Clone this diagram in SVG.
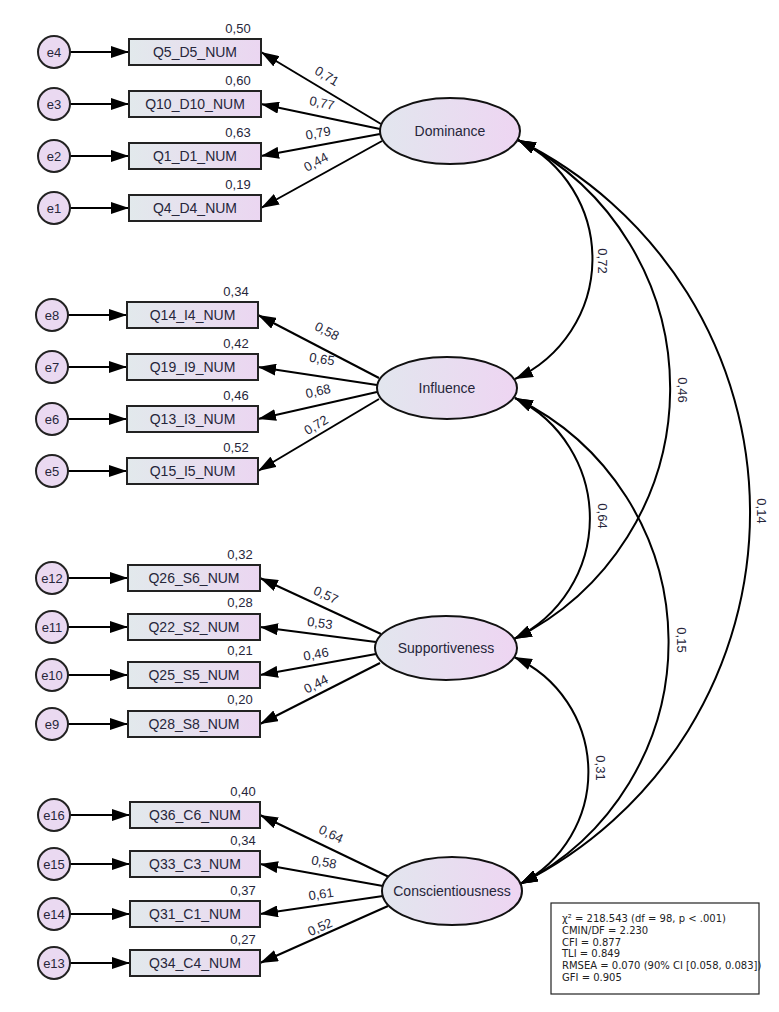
<svg xmlns="http://www.w3.org/2000/svg" width="779" height="1012" viewBox="0 0 779 1012">
<defs>
<linearGradient id="gl" x1="0" y1="0" x2="1" y2="0"><stop offset="0" stop-color="#e2e6ee"/><stop offset="1" stop-color="#eed5f2"/></linearGradient>
<linearGradient id="gb" x1="0" y1="0" x2="1" y2="0"><stop offset="0" stop-color="#e2e9ec"/><stop offset="1" stop-color="#ebd6f1"/></linearGradient>
<marker id="ah" viewBox="0 0 18 12" refX="18" refY="6" markerWidth="18" markerHeight="12" markerUnits="userSpaceOnUse" orient="auto-start-reverse"><path d="M0,0L18,6L0,12z" fill="#000"/></marker>
</defs>
<style>
.lat ellipse{fill:url(#gl);stroke:#111;stroke-width:2}
.obs rect{fill:url(#gb);stroke:#222;stroke-width:2}
.err circle{fill:#ead9f1;stroke:#222;stroke-width:2}
text{font-family:"Liberation Sans",Arial,sans-serif;fill:#26263a}
.nl{font-size:14px;text-anchor:middle}
.el{font-size:13px;text-anchor:middle}
.cf{font-size:13px;text-anchor:middle}
.conn path{stroke:#000;stroke-width:2;fill:none}
.ld{marker-end:url(#ah)}
.cv{marker-start:url(#ah);marker-end:url(#ah)}
.st{font-family:"DejaVu Sans",sans-serif;font-size:10px;fill:#222}
</style>
<rect width="779" height="1012" fill="#fff"/>

<g id="connectors" class="conn">
<path class="ld" d="M70,52H129"/><path class="ld" d="M70,104H129"/><path class="ld" d="M70,156H129"/><path class="ld" d="M70,208H129"/>
<path class="ld" d="M68,315H127"/><path class="ld" d="M68,367H127"/><path class="ld" d="M68,419H127"/><path class="ld" d="M68,471H127"/>
<path class="ld" d="M68,578H128"/><path class="ld" d="M68,627H128"/><path class="ld" d="M68,675H128"/><path class="ld" d="M68,724H128"/>
<path class="ld" d="M70,815H130"/><path class="ld" d="M70,864H130"/><path class="ld" d="M70,914H130"/><path class="ld" d="M70,963H130"/>
<path class="ld" d="M381,124L261,52"/><path class="ld" d="M380,129L261,104"/><path class="ld" d="M380,134L261,156"/><path class="ld" d="M382,141L261,208"/>
<path class="ld" d="M379,378L258,315"/><path class="ld" d="M377,385L258,367"/><path class="ld" d="M377,392L258,419"/><path class="ld" d="M379,399L258,471"/>
<path class="ld" d="M381,634L260,578"/><path class="ld" d="M376,642L260,627"/><path class="ld" d="M376,654L260,675"/><path class="ld" d="M380,663L260,724"/>
<path class="ld" d="M389,877L260,815"/><path class="ld" d="M383,886L260,864"/><path class="ld" d="M383,896L260,914"/><path class="ld" d="M388,906L260,963"/>
<path class="cv" d="M518,140A132,132 0 0 1 515,379"/>
<path class="cv" d="M518,140A279,279 0 0 1 514,639"/>
<path class="cv" d="M518,140A415,415 0 0 1 520,884"/>
<path class="cv" d="M515,398A134,134 0 0 1 514,639"/>
<path class="cv" d="M515,398A271,271 0 0 1 520,884"/>
<path class="cv" d="M514,657A126,126 0 0 1 520,884"/>
<text class="cf" transform="translate(327,76) rotate(31)" y="4.5">0,71</text>
<text class="cf" transform="translate(322,103) rotate(12)" y="4.5">0,77</text>
<text class="cf" transform="translate(318,133) rotate(-10.5)" y="4.5">0,79</text>
<text class="cf" transform="translate(316,162) rotate(-29)" y="4.5">0,44</text>
<text class="cf" transform="translate(327,331) rotate(27.5)" y="4.5">0,58</text>
<text class="cf" transform="translate(322,359) rotate(8.6)" y="4.5">0,65</text>
<text class="cf" transform="translate(318,391) rotate(-12.8)" y="4.5">0,68</text>
<text class="cf" transform="translate(316,425) rotate(-30.8)" y="4.5">0,72</text>
<text class="cf" transform="translate(326,595) rotate(24.8)" y="4.5">0,57</text>
<text class="cf" transform="translate(320,623) rotate(7.4)" y="4.5">0,53</text>
<text class="cf" transform="translate(316,654) rotate(-10.3)" y="4.5">0,46</text>
<text class="cf" transform="translate(316,684) rotate(-27)" y="4.5">0,44</text>
<text class="cf" transform="translate(331,834) rotate(25.7)" y="4.5">0,64</text>
<text class="cf" transform="translate(324,862) rotate(10.1)" y="4.5">0,58</text>
<text class="cf" transform="translate(321,894) rotate(-8.3)" y="4.5">0,61</text>
<text class="cf" transform="translate(320,927) rotate(-24)" y="4.5">0,52</text>
<text class="cf" transform="translate(602,261) rotate(90)" y="4.5">0,72</text>
<text class="cf" transform="translate(682,390) rotate(90)" y="4.5">0,46</text>
<text class="cf" transform="translate(761,511) rotate(90)" y="4.5">0,14</text>
<text class="cf" transform="translate(602,516) rotate(90)" y="4.5">0,64</text>
<text class="cf" transform="translate(681,640) rotate(90)" y="4.5">0,15</text>
<text class="cf" transform="translate(600,768) rotate(90)" y="4.5">0,31</text>
</g>

<g id="Dominance" class="lat"><ellipse cx="450" cy="131" rx="70" ry="33"/><text class="nl" x="450" y="136">Dominance</text></g>
<g id="Influence" class="lat"><ellipse cx="447" cy="388" rx="70" ry="31"/><text class="nl" x="447" y="393">Influence</text></g>
<g id="Supportiveness" class="lat"><ellipse cx="446" cy="648" rx="71" ry="32"/><text class="nl" x="446" y="653">Supportiveness</text></g>
<g id="Conscientiousness" class="lat"><ellipse cx="452" cy="891" rx="70" ry="34"/><text class="nl" x="452" y="896">Conscientiousness</text></g>

<g id="Q5_D5_NUM" class="obs"><rect x="129" y="39" width="132" height="26"/><text class="nl" x="195" y="57">Q5_D5_NUM</text><text class="cf" x="238" y="33">0,50</text></g>
<g id="Q10_D10_NUM" class="obs"><rect x="129" y="91" width="132" height="26"/><text class="nl" x="195" y="109">Q10_D10_NUM</text><text class="cf" x="238" y="85">0,60</text></g>
<g id="Q1_D1_NUM" class="obs"><rect x="129" y="143" width="132" height="26"/><text class="nl" x="195" y="161">Q1_D1_NUM</text><text class="cf" x="238" y="137">0,63</text></g>
<g id="Q4_D4_NUM" class="obs"><rect x="129" y="195" width="132" height="26"/><text class="nl" x="195" y="213">Q4_D4_NUM</text><text class="cf" x="238" y="189">0,19</text></g>

<g id="Q14_I4_NUM" class="obs"><rect x="127" y="302" width="131" height="26"/><text class="nl" x="192.5" y="320">Q14_I4_NUM</text><text class="cf" x="236" y="296">0,34</text></g>
<g id="Q19_I9_NUM" class="obs"><rect x="127" y="354" width="131" height="26"/><text class="nl" x="192.5" y="372">Q19_I9_NUM</text><text class="cf" x="236" y="348">0,42</text></g>
<g id="Q13_I3_NUM" class="obs"><rect x="127" y="406" width="131" height="26"/><text class="nl" x="192.5" y="424">Q13_I3_NUM</text><text class="cf" x="236" y="400">0,46</text></g>
<g id="Q15_I5_NUM" class="obs"><rect x="127" y="458" width="131" height="26"/><text class="nl" x="192.5" y="476">Q15_I5_NUM</text><text class="cf" x="236" y="452">0,52</text></g>

<g id="Q26_S6_NUM" class="obs"><rect x="128" y="565" width="132" height="26"/><text class="nl" x="194" y="583">Q26_S6_NUM</text><text class="cf" x="240" y="559">0,32</text></g>
<g id="Q22_S2_NUM" class="obs"><rect x="128" y="614" width="132" height="26"/><text class="nl" x="194" y="632">Q22_S2_NUM</text><text class="cf" x="240" y="607">0,28</text></g>
<g id="Q25_S5_NUM" class="obs"><rect x="128" y="662" width="132" height="26"/><text class="nl" x="194" y="680">Q25_S5_NUM</text><text class="cf" x="240" y="655">0,21</text></g>
<g id="Q28_S8_NUM" class="obs"><rect x="128" y="711" width="132" height="26"/><text class="nl" x="194" y="729">Q28_S8_NUM</text><text class="cf" x="240" y="704">0,20</text></g>

<g id="Q36_C6_NUM" class="obs"><rect x="130" y="802" width="130" height="26"/><text class="nl" x="195" y="820">Q36_C6_NUM</text><text class="cf" x="243" y="796">0,40</text></g>
<g id="Q33_C3_NUM" class="obs"><rect x="130" y="851" width="130" height="26"/><text class="nl" x="195" y="869">Q33_C3_NUM</text><text class="cf" x="243" y="845">0,34</text></g>
<g id="Q31_C1_NUM" class="obs"><rect x="130" y="901" width="130" height="26"/><text class="nl" x="195" y="919">Q31_C1_NUM</text><text class="cf" x="243" y="895">0,37</text></g>
<g id="Q34_C4_NUM" class="obs"><rect x="130" y="950" width="130" height="26"/><text class="nl" x="195" y="968">Q34_C4_NUM</text><text class="cf" x="243" y="944">0,27</text></g>

<g id="e4" class="err"><circle cx="54" cy="52" r="16"/><text class="el" x="54" y="56.5">e4</text></g>
<g id="e3" class="err"><circle cx="54" cy="104" r="16"/><text class="el" x="54" y="108.5">e3</text></g>
<g id="e2" class="err"><circle cx="54" cy="156" r="16"/><text class="el" x="54" y="160.5">e2</text></g>
<g id="e1" class="err"><circle cx="54" cy="208" r="16"/><text class="el" x="54" y="212.5">e1</text></g>
<g id="e8" class="err"><circle cx="52" cy="315" r="16"/><text class="el" x="52" y="319.5">e8</text></g>
<g id="e7" class="err"><circle cx="52" cy="367" r="16"/><text class="el" x="52" y="371.5">e7</text></g>
<g id="e6" class="err"><circle cx="52" cy="419" r="16"/><text class="el" x="52" y="423.5">e6</text></g>
<g id="e5" class="err"><circle cx="52" cy="471" r="16"/><text class="el" x="52" y="475.5">e5</text></g>
<g id="e12" class="err"><circle cx="52" cy="578" r="16"/><text class="el" x="52" y="582.5">e12</text></g>
<g id="e11" class="err"><circle cx="52" cy="627" r="16"/><text class="el" x="52" y="631.5">e11</text></g>
<g id="e10" class="err"><circle cx="52" cy="675" r="16"/><text class="el" x="52" y="679.5">e10</text></g>
<g id="e9" class="err"><circle cx="52" cy="724" r="16"/><text class="el" x="52" y="728.5">e9</text></g>
<g id="e16" class="err"><circle cx="54" cy="815" r="16"/><text class="el" x="54" y="819.5">e16</text></g>
<g id="e15" class="err"><circle cx="54" cy="864" r="16"/><text class="el" x="54" y="868.5">e15</text></g>
<g id="e14" class="err"><circle cx="54" cy="914" r="16"/><text class="el" x="54" y="918.5">e14</text></g>
<g id="e13" class="err"><circle cx="54" cy="963" r="16"/><text class="el" x="54" y="967.5">e13</text></g>

<g id="fit">
<rect x="551" y="903" width="208" height="91" fill="#fff" stroke="#222" stroke-width="1.2"/>
<text class="st" x="562" y="922">χ² = 218.543 (df = 98, p &lt; .001)</text>
<text class="st" x="562" y="934">CMIN/DF = 2.230</text>
<text class="st" x="562" y="945.5">CFI = 0.877</text>
<text class="st" x="562" y="957">TLI = 0.849</text>
<text class="st" x="562" y="969">RMSEA = 0.070 (90% CI [0.058, 0.083])</text>
<text class="st" x="562" y="980.5">GFI = 0.905</text>
</g>
</svg>
